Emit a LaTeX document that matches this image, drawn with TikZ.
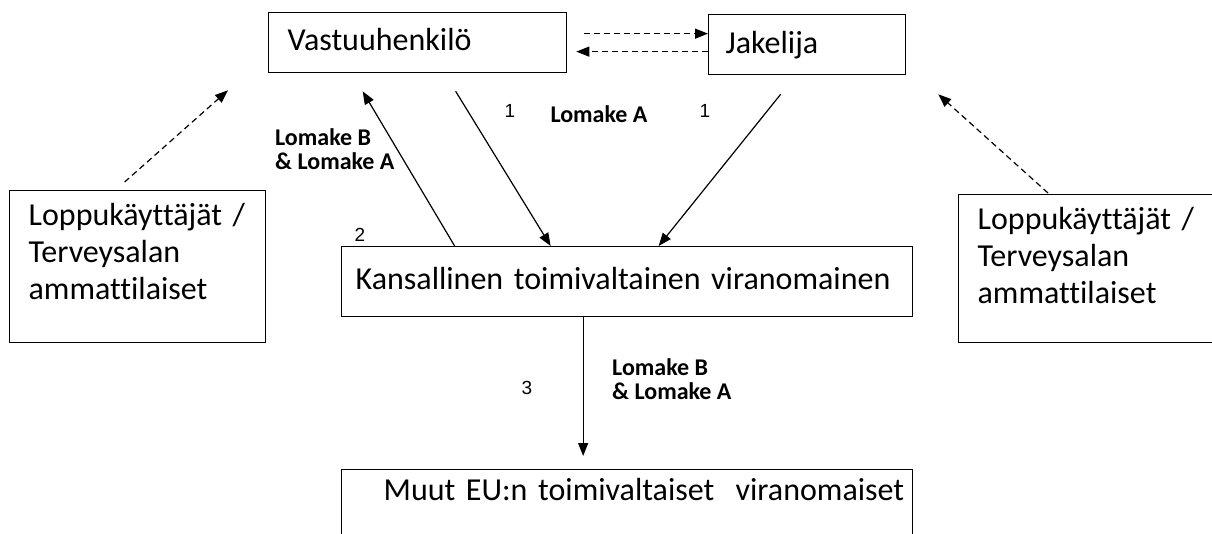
\documentclass[tikz,border=0pt]{standalone}
\usepackage{fontspec}
\setmainfont{Carlito}[Ligatures={NoCommon}]
\newfontfamily\numfont{Liberation Sans}
\usetikzlibrary{arrows.meta}
\usetikzlibrary{calc}

\tikzset{
  box/.style={draw, line width=1.3pt, anchor=north west, inner ysep=0pt, align=left, font=\fontsize{32}{37}\selectfont},
  num/.style={inner sep=0pt, font=\numfont\fontsize{19}{22}\selectfont},
  lbl/.style={inner sep=0pt, anchor=base west, align=left, font=\bfseries\fontsize{24}{24}\selectfont},
  flow/.style={->, line width=1.2pt},
  hint/.style={->, line width=1.2pt, dash pattern=on 6pt off 4pt},
  >={Triangle[length=13pt,width=10pt]}
}

\begin{document}
\begin{tikzpicture}[x=1pt,y=-1pt]
	\useasboundingbox (0,0) rectangle (1212,534);
	\clip (0,0) rectangle (1212,534);
	% boxes
	\node[box, inner xsep=19pt, text width=260pt, text height=38pt, text depth=22pt] (vastuu) at (268,12) {Vastuuhenkilö};
	\node[box, inner xsep=17pt, text width=163pt, text height=39pt, text depth=21pt] (jak) at (708,14) {Jakelija};
	\node[box, inner xsep=14pt, text width=543pt, text height=43pt, text depth=27pt] (kans) at (341,246) {Kansallinen toimivaltainen viranomainen};
	\node[box, inner xsep=14pt, text width=543pt, text height=31pt, text depth=100pt] (muut) at (341,469) {\hspace*{28pt}\mbox{Muut EU:n toimivaltaiset\ \ viranomaiset}};
	\node[box, inner xsep=19pt, text width=218pt, text height=35pt, text depth=117pt] (leftuser) at (9,190) {Loppukäyttäjät~/\\Terveysalan\\ammattilaiset};
	\node[box, inner xsep=19pt, text width=239pt, text height=35pt, text depth=113pt] (rightuser) at (958,194) {Loppukäyttäjät~/\\Terveysalan\\ammattilaiset};
	% labels
	\node[num] (n1a) at (510,111) {1};
	\node[num] (n1b) at (705,111) {1};
	\node[lbl, anchor=base] (lomA) at (599,123) {Lomake A};
	\node[lbl] (lomBA) at (275,170) {Lomake B\\\& Lomake A};
	\node[num] (n2) at (360,235) {2};
	\node[num] (n3) at (527,388) {3};
	\node[lbl] (lomBAeu) at (612,399) {Lomake B\\\& Lomake A};
	% connectors
	\draw[hint] ([xshift=17pt,yshift=9pt]vastuu.east) -- ([yshift=11pt]jak.west);
	\draw[hint] ([yshift=-7pt]jak.west) -- ([xshift=9pt,yshift=-9pt]vastuu.east);
	\draw[flow] ([xshift=38pt,yshift=-18pt]vastuu.south) -- ([xshift=-76.5pt]kans.north);
	\draw[flow] ([xshift=-26.5pt,yshift=-19pt]jak.south) -- ([xshift=31.5pt]kans.north);
	\draw[flow] ([xshift=-172.5pt]kans.north) -- ([xshift=-55pt,yshift=-18pt]vastuu.south);
	\draw[flow] ([xshift=-44pt]kans.south) -- ([xshift=-44pt,yshift=13pt]muut.north);
	\draw[hint] ([xshift=-13pt,yshift=8pt]leftuser.north) -- ([xshift=-40pt,yshift=-17pt]vastuu.south west);
	\draw[hint] ([xshift=90pt,yshift=1pt]rightuser.north west) -- ([xshift=32pt,yshift=-19pt]jak.south east);
\end{tikzpicture}
\end{document}
